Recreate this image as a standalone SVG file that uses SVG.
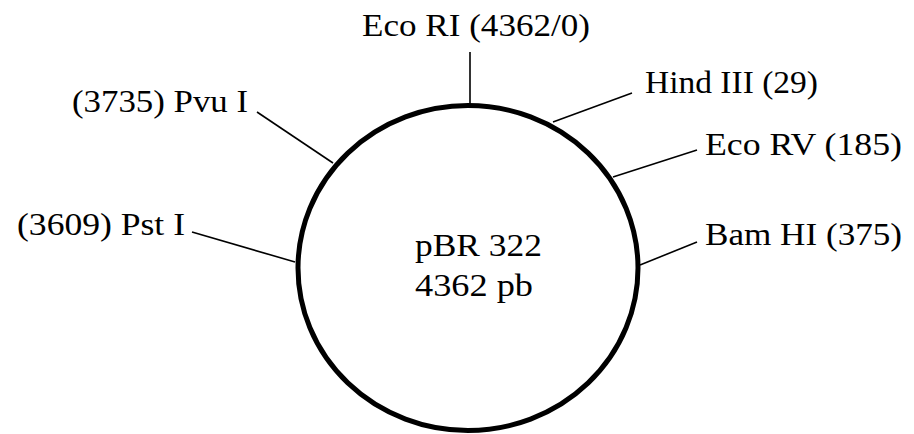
<svg xmlns="http://www.w3.org/2000/svg" width="914" height="434" viewBox="0 0 914 434">
<style>
text{font-family:"Liberation Serif","Times New Roman",serif;font-size:31px;fill:#000}
.ln{stroke:#000;stroke-width:1.6;fill:none}
.ring{stroke:#000;stroke-width:5;fill:none}
</style>
<rect width="914" height="434" fill="#fff"/>
<g id="plasmid">
<ellipse class="ring" cx="468" cy="268" rx="170" ry="162.5"/>
<text x="415" y="256" textLength="127" lengthAdjust="spacingAndGlyphs">pBR 322</text>
<text x="415" y="296" textLength="118" lengthAdjust="spacingAndGlyphs">4362 pb</text>
</g>
<g id="connectors">
<line class="ln" x1="470" y1="52" x2="470" y2="105"/>
<line class="ln" x1="553" y1="122" x2="632" y2="93"/>
<line class="ln" x1="613" y1="177" x2="697" y2="150"/>
<line class="ln" x1="640" y1="265" x2="697" y2="242"/>
<line class="ln" x1="257" y1="112" x2="333" y2="163"/>
<line class="ln" x1="192" y1="232" x2="295" y2="262"/>
</g>
<g id="ecori"><text x="362" y="36" textLength="228" lengthAdjust="spacingAndGlyphs">Eco RI (4362/0)</text></g>
<g id="hindiii"><text x="645" y="93" textLength="173" lengthAdjust="spacingAndGlyphs">Hind III (29)</text></g>
<g id="ecorv"><text x="705" y="155" textLength="197" lengthAdjust="spacingAndGlyphs">Eco RV (185)</text></g>
<g id="bamhi"><text x="705" y="245" textLength="197" lengthAdjust="spacingAndGlyphs">Bam HI (375)</text></g>
<g id="pvui"><text x="72" y="112" textLength="176" lengthAdjust="spacingAndGlyphs">(3735) Pvu I</text></g>
<g id="psti"><text x="17" y="235" textLength="168" lengthAdjust="spacingAndGlyphs">(3609) Pst I</text></g>
</svg>
